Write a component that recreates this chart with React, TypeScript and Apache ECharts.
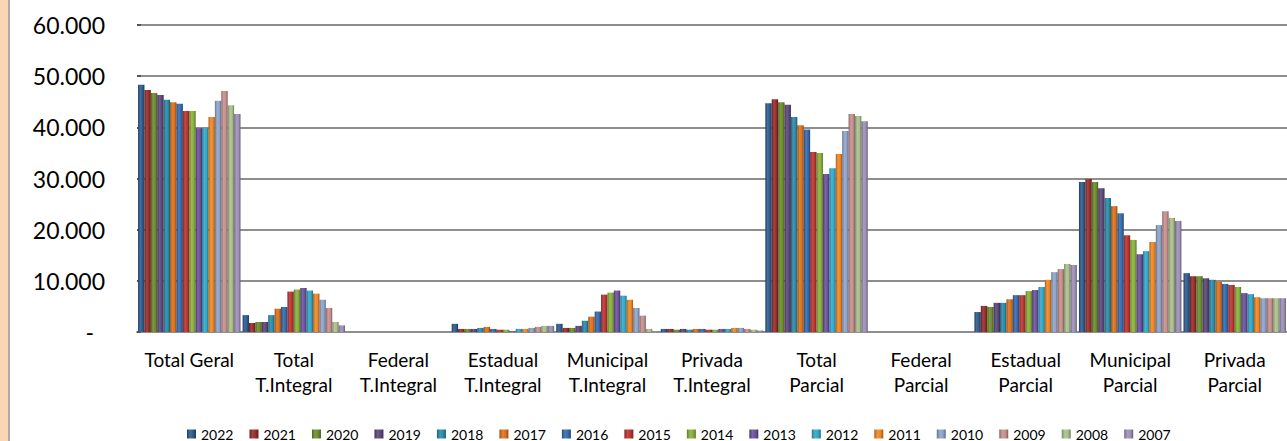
import React, { useEffect, useRef } from "react";
import * as echarts from "echarts";

const categories = [
  "Total Geral",
  "Total\nT.Integral",
  "Federal\nT.Integral",
  "Estadual\nT.Integral",
  "Municipal\nT.Integral",
  "Privada\nT.Integral",
  "Total\nParcial",
  "Federal\nParcial",
  "Estadual\nParcial",
  "Municipal\nParcial",
  "Privada\nParcial",
];

const years = ["2022", "2021", "2020", "2019", "2018", "2017", "2016", "2015", "2014", "2013", "2012", "2011", "2010", "2009", "2008", "2007"];

// values per category, ordered 2022 -> 2007
const totalGeral = [48300, 47300, 46700, 46300, 45400, 44900, 44600, 43200, 43200, 39800, 39800, 42000, 45200, 47100, 44300, 42600];
const totalTIntegral = [3300, 1760, 1950, 1950, 3300, 4560, 4900, 7900, 8300, 8600, 8100, 7500, 6300, 4700, 1950, 1300];
const federalTIntegral = [0, 0, 0, 0, 0, 0, 0, 0, 0, 0, 0, 0, 0, 0, 0, 0];
const estadualTIntegral = [1600, 600, 600, 600, 800, 1000, 600, 450, 450, 150, 600, 600, 800, 1000, 1200, 1200];
const municipalTIntegral = [1600, 800, 800, 1200, 2200, 3000, 4000, 7300, 7700, 8100, 7100, 6300, 4700, 3200, 600, 100];
const privadaTIntegral = [600, 600, 450, 600, 450, 600, 600, 450, 450, 600, 600, 800, 800, 600, 450, 300];
const totalParcial = [44700, 45500, 44900, 44400, 42000, 40400, 39600, 35200, 35000, 30900, 32000, 34800, 39300, 42600, 42200, 41200];
const federalParcial = [0, 0, 0, 0, 0, 0, 0, 0, 0, 0, 0, 0, 0, 0, 0, 0];
const estadualParcial = [3900, 5100, 4900, 5700, 5700, 6400, 7200, 7200, 8000, 8200, 8800, 10200, 11700, 12300, 13300, 13100];
const municipalParcial = [29300, 29900, 29300, 28100, 26200, 24600, 23200, 18900, 18000, 15200, 15800, 17600, 20900, 23600, 22300, 21700];
const privadaParcial = [11500, 10900, 10900, 10500, 10200, 9800, 9400, 9200, 8800, 7600, 7400, 6800, 6600, 6600, 6600, 6600];

const categoryValues = [
  totalGeral,
  totalTIntegral,
  federalTIntegral,
  estadualTIntegral,
  municipalTIntegral,
  privadaTIntegral,
  totalParcial,
  federalParcial,
  estadualParcial,
  municipalParcial,
  privadaParcial,
];

const yearColors = [
  "#2D5A8C", "#952D2A", "#6B8B2E", "#5B467A", "#2B8AA6", "#DB711B",
  "#3469AE", "#BA332F", "#88B03B", "#6C509C", "#31A8C8", "#EF8622",
  "#8EA3C9", "#C58F8D", "#AABF8B", "#9D8FB6",
];

function hexToRgb(h: string) {
  const n = parseInt(h.slice(1), 16);
  return [(n >> 16) & 255, (n >> 8) & 255, n & 255];
}
function rgb(a: number[]) {
  return `rgb(${a.map((v) => Math.max(0, Math.min(255, Math.round(v)))).join(",")})`;
}
function darken(h: string, f: number) {
  return rgb(hexToRgb(h).map((v) => v * f));
}
function lighten(h: string, f: number) {
  return rgb(hexToRgb(h).map((v) => v + (255 - v) * f));
}

function fmt(v: number) {
  if (v === 0) return "{z|-}";
  return String(Math.round(v)).replace(/\B(?=(\d{3})+(?!\d))/g, ".");
}

export default function App() {
  const ref = useRef<HTMLDivElement>(null);
  useEffect(() => {
    if (!ref.current) return;
    const chart = echarts.init(ref.current, null, { renderer: "svg" });
    const series = years.map((y, i) => {
      const c = yearColors[i];
      return {
        name: y,
        type: "bar",
        data: categoryValues.map((arr) => arr[i]),
        barGap: "0%",
        barCategoryGap: "2%",
        itemStyle: {
          color: new echarts.graphic.LinearGradient(0, 0, 1, 0, [
            { offset: 0, color: darken(c, 0.72) },
            { offset: 0.35, color: lighten(c, 0.12) },
            { offset: 0.7, color: c },
            { offset: 1, color: darken(c, 0.65) },
          ]),
        },
      };
    });
    chart.setOption({
      animation: false,
      backgroundColor: "#ffffff",
      textStyle: { fontFamily: "Lato" },
      graphic: [
        { type: "rect", shape: { x: 0, y: 0, width: 8, height: 441 }, style: { fill: "#FCD5B4" } },
        { type: "rect", shape: { x: 8, y: 0, width: 2, height: 441 }, style: { fill: "#ABABAB" } },
      ],
      grid: { left: 137, right: -13, top: 25, bottom: 109, containLabel: false },
      legend: {
        data: years,
        left: 187,
        top: 427,
        icon: "rect",
        itemWidth: 9,
        itemHeight: 9,
        itemGap: 16,
        padding: 0,
        textStyle: { fontFamily: "Lato", fontSize: 14, lineHeight: 14, color: "#000" },
      },
      xAxis: {
        type: "category",
        data: categories,
        axisLine: { show: true, lineStyle: { color: "#8E8E8E", width: 2 } },
        axisTick: { show: false },
        axisLabel: {
          interval: 0,
          margin: 15,
          fontFamily: "Lato",
          fontSize: 19,
          lineHeight: 25,
          color: "#000",
        },
      },
      yAxis: {
        type: "value",
        min: 0,
        max: 60000,
        interval: 10000,
        axisLine: { show: false },
        axisTick: { show: true, inside: true, length: 4, lineStyle: { color: "#555", width: 2 } },
        splitLine: { show: true, lineStyle: { color: "#8E8E8E", width: 2 } },
        axisLabel: {
          margin: 32,
          fontFamily: "Lato",
          fontSize: 23,
          color: "#000",
          formatter: fmt,
          rich: { z: { fontFamily: "Lato", fontSize: 23, color: "#000", padding: [0, 11, 0, 0] } },
        },
      },
      series,
    });
    return () => chart.dispose();
  }, []);
  return (
    <div
      ref={ref}
      style={{ position: "fixed", left: 0, top: 0, width: 1287, height: 441, background: "#fff" }}
    />
  );
}
